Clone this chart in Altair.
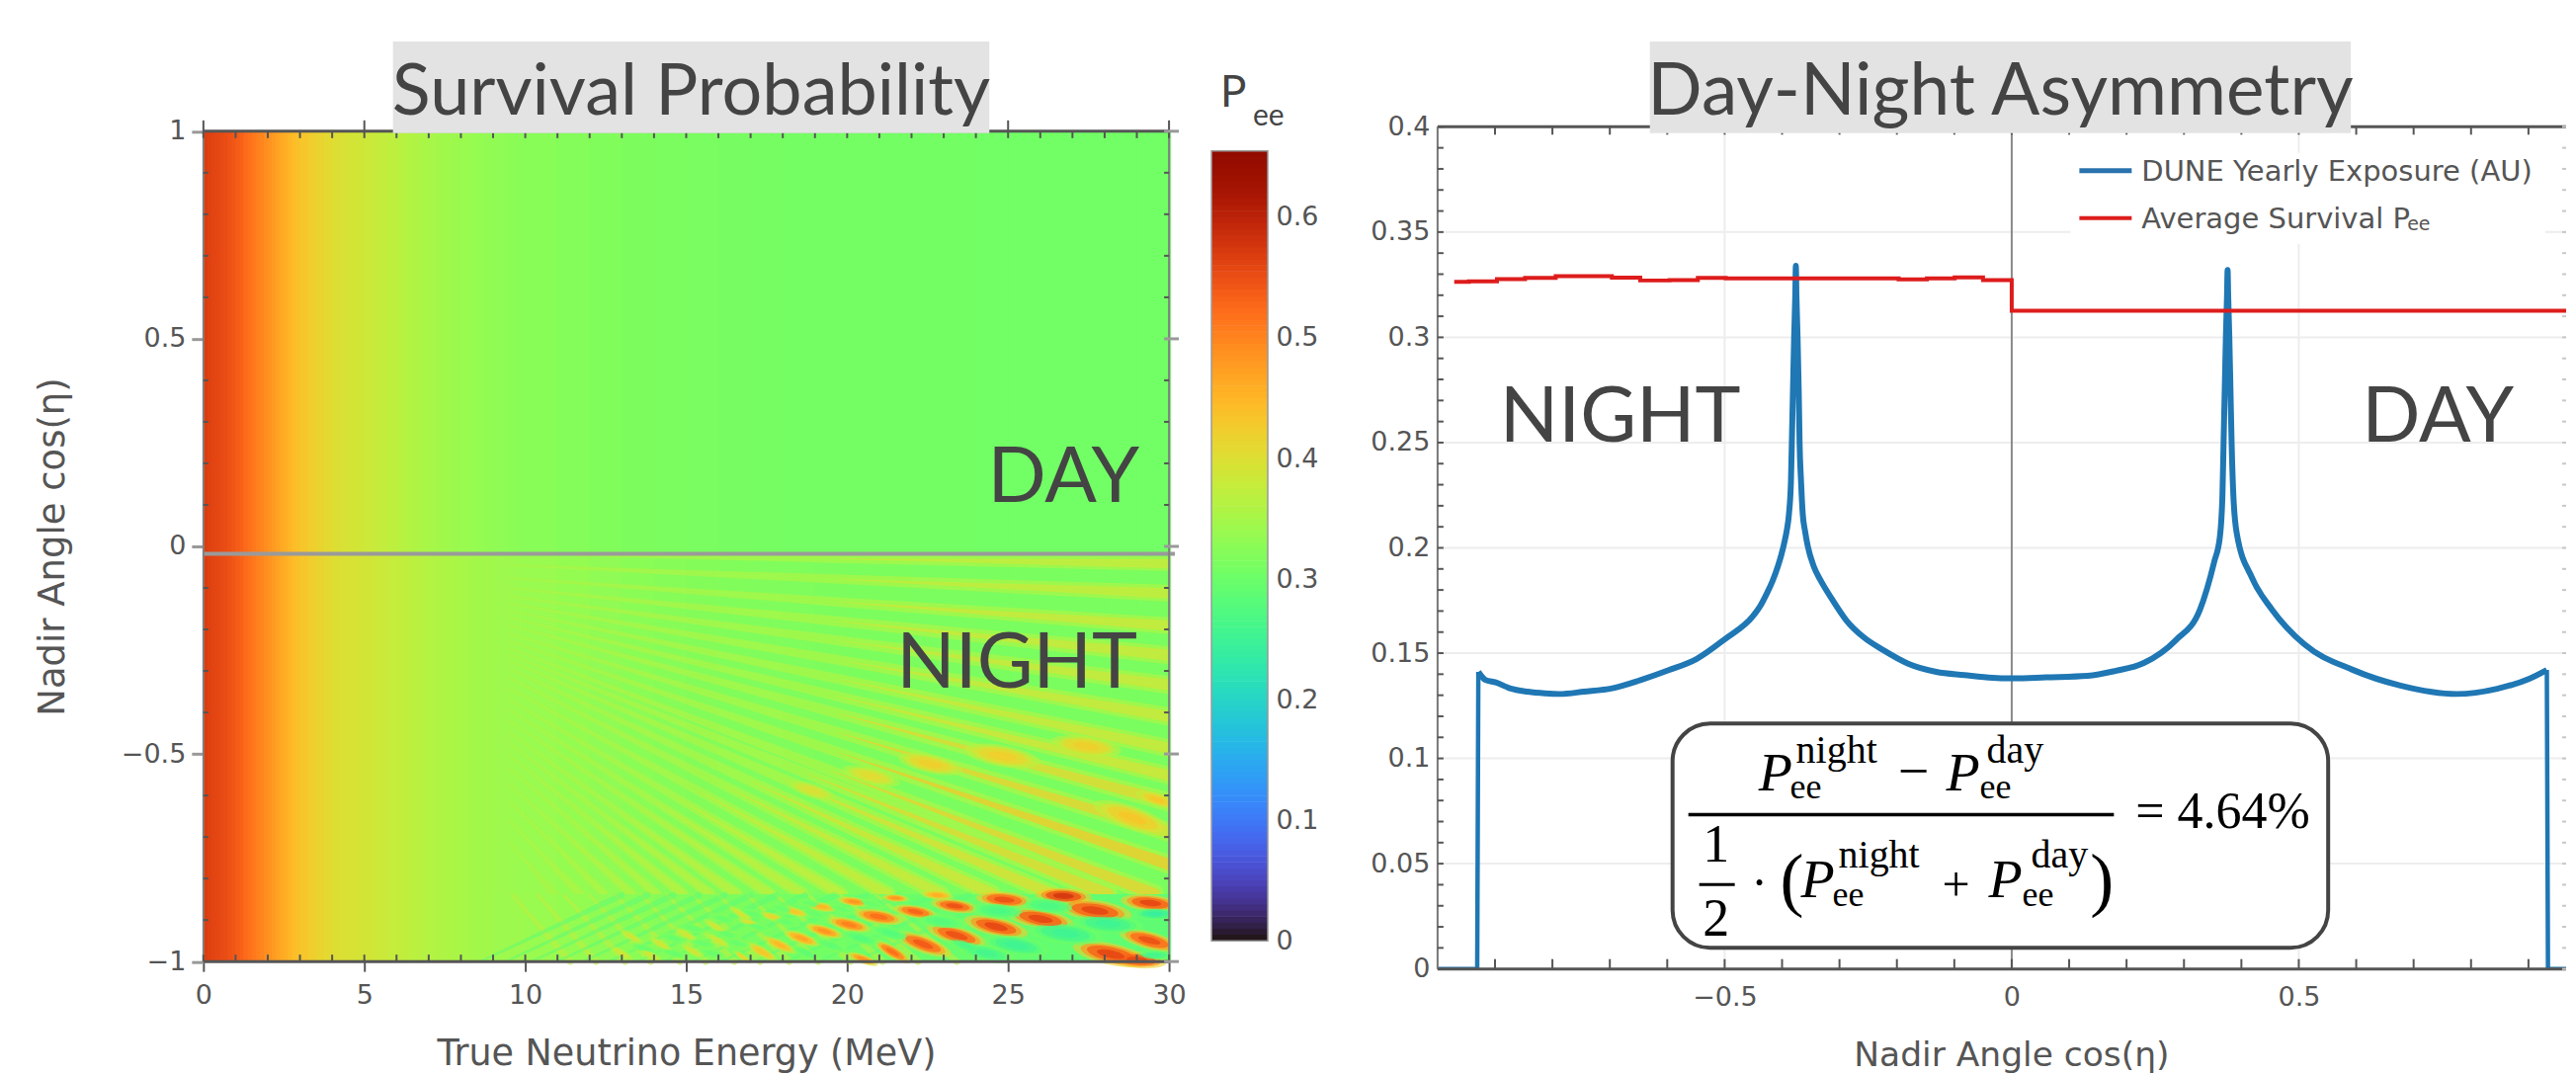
import altair as alt
import pandas as pd

# ---------- left panel: survival probability readings ----------
E_edges = [0, .125, .25, .375, .5, .625, .75, .875, 1, 1.125, 1.25, 1.375, 1.5, 1.625, 1.75, 1.875, 2, 2.125, 2.25, 2.375, 2.5, 2.625, 2.75, 2.875,
           3, 3.25, 3.5, 3.75, 4, 4.25, 4.5, 4.75,
           5, 5.25, 5.5, 5.75, 6, 6.25, 6.5, 6.75, 7, 7.25, 7.5, 7.75, 8, 8.25, 8.5, 8.75, 9, 9.25, 9.5, 9.75,
           10, 11, 12, 13, 14, 15, 16, 17, 18, 19, 20, 21, 22, 23, 24, 25, 26, 27, 28, 29, 30]
P_low = [.565, .561, .558, .555, .552, .549, .545, .54, .535, .529, .522, .515, .508, .501, .495, .488, .482, .475, .468, .461, .455, .447, .44, .435]
P_day = P_low + [.43, .42, .412, .405, .398, .393, .389, .385,
         .381, .376, .372, .368, .363, .359, .355, .351, .347, .344, .341, .338, .336, .334, .332, .330, .328, .326, .325, .323,
         .322, .319, .316, .313, .311, .309, .308, .307, .306, .305, .305, .304, .304, .304, .303, .303, .303, .303, .303, .303]
P_night = P_low + [.43, .42, .412, .405, .398, .395, .392, .389,
           .386, .382, .379, .375, .372, .368, .365, .361, .358, .355, .353, .350, .348, .346, .344, .343, .341, .340, .339, .337,
           .336, .332, .328, .324, .321, .318, .316, .315, .314, .313, .312, .312, .311, .311, .310, .310, .310, .310, .310, .310]
band_E = [9, 10, 11, 12, 13, 14, 15, 16, 17, 18, 19, 20, 21, 22, 23, 24, 25, 26, 27, 28, 29, 30]
band_P = [.34, .336, .332, .328, .324, .32, .316, .312, .308, .305, .303, .30, .298, .296, .294, .292, .29, .288, .287, .286, .285]

# oscillation bands of the night side: start, middle and end of each band, its peak value and width
st_start_c = [-.017, -.045, -.076, -.100, -.120, -.138, -.155, -.172, -.19, -.21, -.228,
              -.245, -.26, -.275, -.294, -.316, -.342, -.369, -.394, -.42, -.449, -.474, -.503, -.534, -.573, -.615, -.66, -.713]
st_mid_E = [19.75] * 11 + [19.52, 18.8, 17.9, 17.0, 16.2, 15.4, 14.65, 14.05, 13.55, 13.0, 12.6, 12.2, 11.8, 11.4, 11.0, 10.6, 10.2]
st_mid_c = [-.03, -.079, -.134, -.181, -.227, -.274, -.32, -.362, -.403, -.449, -.497,
            -.541, -.549, -.556, -.566, -.577, -.59, -.603, -.616, -.629, -.643, -.656, -.67, -.686, -.705, -.726, -.749, -.775]
st_end_E = [30] * 11 + [29.54, 28.1, 26.35, 24.5, 22.9, 21.26, 19.8, 18.6, 17.6, 16.55, 15.74, 14.9, 14.07, 13.3, 12.45, 11.7, 10.9]
st_end_c = [-.042, -.113, -.191, -.262, -.334, -.41, -.486, -.552, -.616, -.688, -.766] + [-.837] * 17
st_P = [.38, .38, .385, .385, .385, .385, .385, .39, .41, .42, .43,
        .42, .41, .40, .39, .385, .38, .375, .37, .365, .365, .36, .36, .355, .355, .35, .35, .345]
st_w = [13, 15, 15, 16, 16, 16, 16, 16, 17, 17, 17,
        17, 17, 16, 16, 15, 14, 13, 12, 11, 11, 10, 10, 9, 9, 8, 8, 7]

# cross-hatched ripples below the mantle edge: energy at the top and at the bottom of each ripple
hatch_a_top = [9.6, 10.4, 11.2, 12.0, 12.8, 13.6, 14.4, 15.2, 16.0, 16.9, 17.8, 18.8, 19.8, 20.9]
hatch_a_bot = [11.4, 12.2, 13.1, 13.9, 14.8, 15.6, 16.5, 17.3, 18.2, 19.1, 20.1, 21.1, 22.2, 23.4]
hatch_b_top = [13.0, 13.8, 14.6, 15.4, 16.2, 17.0, 17.8, 18.7, 19.6, 20.6, 21.6, 22.7, 23.8, 25.0]
hatch_b_bot = [8.6, 9.4, 10.2, 11.0, 11.8, 12.6, 13.5, 14.3, 15.2, 16.1, 17.1, 18.1, 19.1, 20.2]

# patches of the interference region: energy, angle, length, tilt, peak value
pt_E = [26.72, 24.88, 22.8, 21.5, 29.42, 23.34, 22.12, 20.21, 19.2, 18.37, 17.67, 16.96, 27.7, 26.01, 24.63, 23.4, 22.36, 21.41,
        20.98, 20.06, 19.3, 18.59, 17.91, 17.36, 16.75, 20.49, 29.39, 28.19, 29.02,
        27.42, 24.82, 22.58, 20.74, 18.9, 28.87, 29.63,
        26.78, 25.25, 28.1, 29.57, 24.33, 29.54, 24.72, 26.26, 22.94, 21.35, 20.43, 23.71, 19.5, 18.74,
        13.68, 14.6, 15.21, 16.13, 17.06, 17.98, 18.9, 14.6, 15.5, 16.3, 17.2, 18.1, 19.0, 15.8, 16.6, 19.82, 20.74,
        14.2, 15.0, 15.9, 16.7, 13.0, 13.9, 15.2, 16.0, 13.3]
pt_c = [-.842, -.851, -.84, -.847, -.859, -.866, -.88, -.856, -.868, -.88, -.892, -.906, -.877, -.897, -.916, -.937, -.958, -.977,
        -.892, -.911, -.927, -.944, -.96, -.977, -.989, -.994, -.949, -.982, -.996,
        -.481, -.505, -.524, -.553, -.588, -.654, -.61,
        -.932, -.961, -.909, -.885, -.98, -.985, -.878, -.866, -.904, -.932, -.944, -.963, -.961, -.98,
        -.968, -.944, -.92, -.897, -.885, -.873, -.861, -.98, -.956, -.935, -.916, -.904, -.885, -.98, -.956, -.873, -.861,
        -.958, -.935, -.915, -.885, -.98, -.985, -.975, -.95, -.94]
pt_len = [38, 38, 22, 18, 40, 32, 30, 22, 22, 20, 18, 16, 50, 46, 44, 42, 40, 28,
          34, 30, 26, 26, 24, 24, 14, 22, 42, 52, 40,
          48, 52, 44, 40, 34, 56, 30,
          52, 45, 48, 30, 40, 26, 40, 40, 35, 30, 28, 30, 24, 22,
          20, 20, 20, 20, 20, 20, 20, 20, 20, 20, 20, 20, 20, 20, 20, 20, 20,
          18, 18, 18, 18, 18, 18, 18, 18, 18]
pt_tilt = [3, 5, 5, 5, 6, 8, 10, 8, 10, 12, 15, 18, 8, 10, 13, 16, 20, 30,
           10, 13, 16, 20, 25, 30, 35, 20, 15, 12, 5,
           8, 10, 12, 14, 18, 20, 18,
           8, 10, 5, 0, 12, 0, 5, 5, 8, 15, 15, 20, 20, 25,
           15, 15, 15, 15, 15, 15, 15, 15, 15, 15, 15, 15, 15, 15, 15, 15, 15,
           30, 30, 30, 30, 30, 30, 30, 30, 30]
pt_P = [.60, .57, .47, .50, .58, .57, .55, .50, .46, .44, .42, .40, .58, .58, .58, .57, .56, .54,
        .54, .52, .50, .48, .46, .44, .42, .50, .57, .58, .58,
        .43, .43, .43, .41, .40, .44, .44,
        .24, .24, .24, .23, .25, .25, .26, .26, .27, .27, .27, .26, .28, .28,
        .29, .29, .29, .29, .29, .29, .29, .29, .29, .29, .29, .29, .29, .29, .29, .29, .29,
        .39, .39, .39, .39, .39, .39, .39, .39, .39]

E_major = [0, 5, 10, 15, 20, 25, 30]
E_minor = [1, 2, 3, 4, 6, 7, 8, 9, 11, 12, 13, 14, 16, 17, 18, 19, 21, 22, 23, 24, 26, 27, 28, 29]
c_major = [-1, -.5, 0, .5, 1]
c_minor = [-.9, -.8, -.7, -.6, -.4, -.3, -.2, -.1, .1, .2, .3, .4, .6, .7, .8, .9]
bar_values = [0, .1, .2, .3, .4, .5, .6]
bar_top = .655

# ---------- right panel ----------
edge_x = [-1, -.931, -.929]
edge_v = [0, 0, .1411]
edge2_x = [.932, .934, .9825]
edge2_v = [.142, 0, 0]
exp_x = [-.929, -.9168, -.8986, -.8741, -.843, -.8127, -.7879, -.745, -.6958, -.6468, -.5976, -.5486, -.4995, -.4504,
         -.44, -.4261, -.417, -.4072, -.401, -.3952, -.392, -.388, -.3845, -.383, -.381, -.379, -.377, -.376, -.375, -.373, -.371, -.3695, -.367, -.364, -.36, -.355, -.345, -.3338, -.3127, -.2878,
         -.2577, -.2234, -.1804, -.1313, -.0825, -.0332, .0034, .06, .132, .18, .23, .2855, .3278, .3529, .3625, .367, .369, .371, .373, .375, .376, .377, .379,
         .381, .383, .386, .392, .4187, .4536, .5096, .5937, .677, .775, .8454, .9014, .932]
exp_v = [.1411, .1373, .1361, .1333, .1317, .1309, .1306, .1317, .1333, .1372, .1419, .1473, .1567, .1677,
         .1715, .1786, .184, .1913, .197, .2036, .208, .2161, .232, .25, .275, .30, .32, .334, .32, .30, .275, .25, .232, .2161, .208, .2005, .1913, .185, .1755, .1655,
         .1575, .1514, .145, .1411, .1396, .1383, .138, .1385, .1392, .1415, .1453, .1561, .1706, .1936, .2051, .225, .25, .275, .30, .32, .332, .32, .30,
         .275, .25, .225, .2068, .1857, .1706, .1542, .1421, .1346, .1306, .1331, .1378, .142]
avg_x = [-.971, -.9455, -.8966, -.8476, -.7943, -.6964, -.647, -.596, -.5467, -.498, -.197, -.1477, -.0994, -.05, 0, .9825]
avg_v = [.3263, .3266, .3277, .3282, .329, .3283, .327, .3272, .3282, .328, .3275, .328, .3285, .3272, .3126, .3126]
x_major = [-.5, 0, .5]
x_minor = [-.9, -.8, -.7, -.6, -.4, -.3, -.2, -.1, .1, .2, .3, .4, .6, .7, .8, .9]
v_major = [0, .05, .1, .15, .2, .25, .3, .35, .4]
v_minor = [.01, .02, .03, .04, .06, .07, .08, .09, .11, .12, .13, .14, .16, .17, .18, .19, .21, .22, .23, .24,
           .26, .27, .28, .29, .31, .32, .33, .34, .36, .37, .38, .39]

TXT = "#444444"
AX = "#555555"
H = 853
W1, W2 = 978, 1143
WB = 186
COL = alt.Scale(scheme="turbo", domain=[0, bar_top])
XL = alt.Scale(domain=[0, 30], range=[0, W1], nice=False)
YL = alt.Scale(domain=[-1, 1], range=[845.5, 4.5], nice=False)
XR = alt.Scale(domain=[-1, .9656], range=[0, W2], nice=False)
YR = alt.Scale(domain=[0, .4], range=[H, 0], nice=False)
YB = alt.Scale(domain=[0, bar_top], range=[824.5, 24.5], nice=False)
ONE = alt.Data(values=[{"a": 1}])

axis_style = dict(labelFont="DejaVu Sans", labelColor=AX, labelFontSize=27, titleFont="DejaVu Sans", titleColor=AX,
                  titleFontWeight="normal", grid=False, domain=False, labelFlush=False, labelOverlap=False)
XA_L = alt.Axis(values=E_major, format="~g", title="True Neutrino Energy (MeV)", titleFontSize=36.5, tickSize=10,
                tickColor=AX, tickWidth=2, labelPadding=11, titleX=489, titleY=104, titleBaseline="alphabetic", offset=-7.5, **axis_style)
YA_L = alt.Axis(values=c_major, format="~g", title="Nadir Angle cos(η)", titleFontSize=37, tickSize=12,
                tickColor="#999999", tickWidth=3, labelPadding=6, titlePadding=50, **axis_style)
XA_R = alt.Axis(values=x_major, format="~g", title="Nadir Angle cos(η)", titleFontSize=34.5,
                tickSize=0, labelPadding=16, titleX=581, titleY=98, titleBaseline="alphabetic", **axis_style)
YA_R = alt.Axis(values=v_major, format="~g", title=None, tickSize=0, labelPadding=8, **axis_style)
YA_B = alt.Axis(values=bar_values, format="~g", title=None, tickSize=0, labelPadding=8, orient="right", offset=57 - WB, **axis_style)
AXES = {id(XL): XA_L, id(YL): YA_L, id(XR): XA_R, id(YR): YA_R}


def txt(s, x, y, size, font="Lato", style="normal", weight="normal", color=TXT, align="left", base="alphabetic"):
    return alt.Chart(ONE).mark_text(text=s, font=font, fontStyle=style, fontWeight=weight, fontSize=size, color=color,
                                    align=align, baseline=base).encode(x=alt.value(x), y=alt.value(y))


def box(x, x2, y, y2, **kw):
    return alt.Chart(ONE).mark_rect(**kw).encode(x=alt.value(x), x2=alt.value(x2), y=alt.value(y), y2=alt.value(y2))


def vticks(vals, scale, a, b, color, sw):
    return alt.Chart(pd.DataFrame({"t": vals})).mark_rule(color=color, strokeWidth=sw).encode(
        x=alt.X("t:Q", scale=scale, axis=AXES[id(scale)]), y=alt.value(a), y2=alt.value(b))


def hticks(vals, scale, a, b, color, sw):
    return alt.Chart(pd.DataFrame({"t": vals})).mark_rule(color=color, strokeWidth=sw).encode(
        y=alt.Y("t:Q", scale=scale, axis=AXES[id(scale)]), x=alt.value(a), x2=alt.value(b))


def heat(Es, Ps, c0, c1):
    df = pd.DataFrame({"e0": Es[:-1], "e1": [e + .06 for e in Es[1:]], "P": Ps, "c0": c0, "c1": c1})
    return alt.Chart(df).mark_rect().encode(
        x=alt.X("e0:Q", scale=XL, axis=XA_L), x2="e1:Q",
        y=alt.Y("c0:Q", scale=YL, axis=YA_L), y2="c1:Q",
        color=alt.Color("P:Q", scale=COL, legend=None))


# bands
mid = pd.DataFrame({"k": list(range(28)), "s": st_start_c, "mE": st_mid_E, "mc": st_mid_c, "eE": st_end_E, "ec": st_end_c,
                    "P": st_P, "w": st_w})
rows_soft, rows_core = [], []
for r in mid.itertuples():
    rows_soft += [{"k": r.k, "E": 9.5, "c": r.s, "w": 1.5, "P": .35},
                  {"k": r.k, "E": r.mE, "c": r.mc, "w": r.w * .62, "P": .35},
                  {"k": r.k, "E": r.eE, "c": r.ec, "w": r.w * 1.15, "P": .35}]
    rows_core += [{"k": r.k, "E": r.mE, "c": r.mc, "w": .5, "P": r.P},
                  {"k": r.k, "E": r.eE, "c": r.ec, "w": r.w * .7, "P": r.P}]

rows_a, rows_b = [], []
for i, (t, b) in enumerate(zip(hatch_a_top, hatch_a_bot)):
    rows_a += [{"k": i, "E": t, "c": -.84, "w": 3, "P": .37}, {"k": i, "E": b, "c": -1, "w": 7, "P": .37}]
for i, (t, b) in enumerate(zip(hatch_b_top, hatch_b_bot)):
    rows_b += [{"k": i, "E": b, "c": -1, "w": 2, "P": .28}, {"k": i, "E": t, "c": -.84, "w": 6, "P": .28}]


def trail(rows, opacity):
    return alt.Chart(pd.DataFrame(rows)).mark_trail(opacity=opacity, clip=True).encode(
        x=alt.X("E:Q", scale=XL, axis=XA_L), y=alt.Y("c:Q", scale=YL, axis=YA_L),
        size=alt.Size("w:Q", scale=None, legend=None), detail="k:N",
        color=alt.Color("P:Q", scale=COL, legend=None))


ELL = "M-1,0 C-1,-0.155 -0.55,-0.28 0,-0.28 C0.55,-0.28 1,-0.155 1,0 C1,0.155 0.55,0.28 0,0.28 C-0.55,0.28 -1,0.155 -1,0 Z"


def patches(frac, grow, opacity):
    df = pd.DataFrame({"E": pt_E, "c": pt_c, "tilt": pt_tilt,
                       "s": [(l * grow) ** 2 for l in pt_len],
                       "P": [.33 + frac * (p - .33) for p in pt_P]})
    return alt.Chart(df).mark_point(shape=ELL, filled=True, strokeWidth=0, opacity=opacity, clip=True).encode(
        x=alt.X("E:Q", scale=XL, axis=XA_L), y=alt.Y("c:Q", scale=YL, axis=YA_L),
        size=alt.Size("s:Q", scale=None, legend=None), angle=alt.Angle("tilt:Q", scale=None),
        color=alt.Color("P:Q", scale=COL, legend=None))


lx = lambda px: px - 204
ly = lambda py: py - 127.5
rx = lambda px: px - 1454

left = alt.layer(
    heat(E_edges, P_day, -.02, 1),
    heat(E_edges, P_night, -1, -.02),
    trail(rows_soft, .75),
    trail(rows_core, .7),
    heat(band_E, band_P, -1, -.838),
    trail(rows_a, .55),
    trail(rows_b, .5),
    patches(.35, 1.5, .6),
    patches(.6, 1.2, .7),
    patches(.8, .95, .8),
    patches(.9, .55, .9),
    hticks([-.018], YL, 0, W1 + 6, "#9a9a9a", 4),
    hticks([1, -1], YL, 0, W1, AX, 3),
    vticks([0, 30], XL, ly(132), ly(973), "#808080", 2),
    vticks(E_minor + E_major, XL, ly(973) - 7, ly(973), AX, 2),
    vticks(E_minor + E_major, XL, ly(132), ly(132) + 7, AX, 2),
    vticks(E_major, XL, ly(132) - 11, ly(132), AX, 2),
    hticks(c_minor, YL, 0, 5, AX, 2),
    hticks(c_minor, YL, W1 - 5, W1, AX, 2),
    hticks(c_major, YL, W1 - 5, W1 + 10, "#999999", 3),
    box(lx(396), lx(1000), ly(41), ly(134), fill="#E3E3E3"),
    txt("Survival Probability", lx(698), ly(115), 72, align="center"),
    txt("DAY", lx(1152), ly(507), 78, align="right"),
    txt("NIGHT", lx(1150), ly(696), 78, align="right"),
    txt("P", lx(1234), ly(107), 44),
    txt("ee", lx(1267), ly(126), 30),
).properties(width=W1, height=H)

# colour bar: the turbo ramp of the scale, drawn as thin slices over its whole domain
ramp = [i * .005 for i in range(131)]
df_bar = pd.DataFrame({"P": ramp, "top": [min(p + .0055, bar_top) for p in ramp]})
bar = alt.layer(
    alt.Chart(df_bar).mark_rect().encode(
        x=alt.value(0), x2=alt.value(57),
        y=alt.Y("P:Q", scale=YB, axis=YA_B), y2="top:Q",
        color=alt.Color("P:Q", scale=COL, legend=None)),
    box(0, 57, 24.5, 824.5, fill="transparent", stroke="#999999", strokeWidth=1.5),
).properties(width=WB, height=H)

df_exp = pd.DataFrame({"x": exp_x, "v": exp_v})
df_avg = pd.DataFrame({"x": avg_x, "v": avg_v})
df_e1 = pd.DataFrame({"x": edge_x, "v": edge_v})
df_e2 = pd.DataFrame({"x": edge2_x, "v": edge2_v})
serif = "Liberation Serif"


def blue(df, sw, interp):
    return alt.Chart(df).mark_line(color="#1f77b4", strokeWidth=sw, strokeJoin="round", interpolate=interp, clip=True).encode(
        x=alt.X("x:Q", scale=XR, axis=XA_R, sort=None), y=alt.Y("v:Q", scale=YR, axis=YA_R))


right = alt.layer(
    hticks(v_major[1:-1], YR, 0, W2, "#ededed", 2),
    vticks([-.5, .5], XR, 0, H, "#ededed", 2),
    box(rx(2095), rx(2576), ly(154), ly(246), fill="white"),
    vticks([0], XR, 0, H, "#8a8a8a", 2),
    blue(df_e1, 4.5, "linear"),
    blue(df_e2, 4.5, "linear"),
    blue(df_exp, 6, "monotone"),
    alt.Chart(df_avg).mark_line(color="#dd1c1c", strokeWidth=4, interpolate="step-after", clip=True).encode(
        x=alt.X("x:Q", scale=XR, axis=XA_R), y=alt.Y("v:Q", scale=YR, axis=YA_R)),
    hticks([.4, 0], YR, 0, W2, AX, 3),
    vticks([-1], XR, 0, H, "#777777", 2),
    vticks(x_minor + x_major, XR, H - 10, H, AX, 2),
    vticks(x_minor + x_major, XR, 0, 8, AX, 2),
    hticks(v_minor + v_major, YR, 0, 6, AX, 2),
    hticks(v_minor + v_major, YR, W2 - 4, W2, "#c8c8c8", 2),
    box(rx(1669), rx(2379), ly(41), ly(134), fill="#E3E3E3"),
    txt("Day-Night Asymmetry", rx(2024), ly(115), 73, align="center"),
    txt("NIGHT", rx(1517), ly(446), 78),
    txt("DAY", rx(2544), ly(446), 78, align="right"),
    alt.Chart(ONE).mark_rule(color="#2a72ad", strokeWidth=5).encode(x=alt.value(rx(2104)), x2=alt.value(rx(2157)), y=alt.value(ly(172))),
    alt.Chart(ONE).mark_rule(color="#dd1c1c", strokeWidth=4).encode(x=alt.value(rx(2104)), x2=alt.value(rx(2157)), y=alt.value(ly(220))),
    txt("DUNE Yearly Exposure (AU)", rx(2167), ly(182), 29, font="DejaVu Sans", color=AX),
    txt("Average Survival P", rx(2167), ly(230), 29, font="DejaVu Sans", color=AX),
    txt("ee", rx(2436), ly(232), 19, font="DejaVu Sans", color=AX),
    box(rx(1692), rx(2356), ly(732), ly(959), fill="white", stroke="#444444", strokeWidth=4, cornerRadius=38),
    txt("P", rx(1779), ly(800), 56, font=serif, style="italic", color="black"),
    txt("night", rx(1817), ly(772), 40, font=serif, color="black"),
    txt("ee", rx(1811), ly(808), 36, font=serif, color="black"),
    txt("−", rx(1936), ly(799), 56, font=serif, color="black", align="center"),
    txt("P", rx(1969), ly(800), 56, font=serif, style="italic", color="black"),
    txt("day", rx(2010), ly(772), 40, font=serif, color="black"),
    txt("ee", rx(2003), ly(808), 36, font=serif, color="black"),
    box(rx(1708), rx(2139), ly(822.5), ly(826), fill="black"),
    txt("= 4.64%", rx(2161), ly(838), 52, font=serif, color="black"),
    txt("1", rx(1736), ly(872), 54, font=serif, color="black", align="center"),
    box(rx(1719), rx(1755), ly(893.5), ly(896.5), fill="black"),
    txt("2", rx(1736), ly(947), 54, font=serif, color="black", align="center"),
    txt("·", rx(1780), ly(910), 50, font=serif, color="black", align="center"),
    txt("(", rx(1801), ly(914), 72, font=serif, color="black"),
    txt("P", rx(1822), ly(908), 56, font=serif, style="italic", color="black"),
    txt("night", rx(1860), ly(878), 40, font=serif, color="black"),
    txt("ee", rx(1854), ly(917), 36, font=serif, color="black"),
    txt("+", rx(1979), ly(912), 50, font=serif, color="black", align="center"),
    txt("P", rx(2012), ly(908), 56, font=serif, style="italic", color="black"),
    txt("day", rx(2055), ly(878), 40, font=serif, color="black"),
    txt("ee", rx(2046), ly(917), 36, font=serif, color="black"),
    txt(")", rx(2115), ly(914), 72, font=serif, color="black"),
).properties(width=W2, height=H)

chart = alt.hconcat(left, bar, right, spacing=43, bounds="flush").configure_view(
    stroke=None).properties(padding={"left": 26, "top": 33, "right": 0, "bottom": 0}, background="white")

chart.save("out.html", embed_options={"renderer": "svg", "actions": False})
